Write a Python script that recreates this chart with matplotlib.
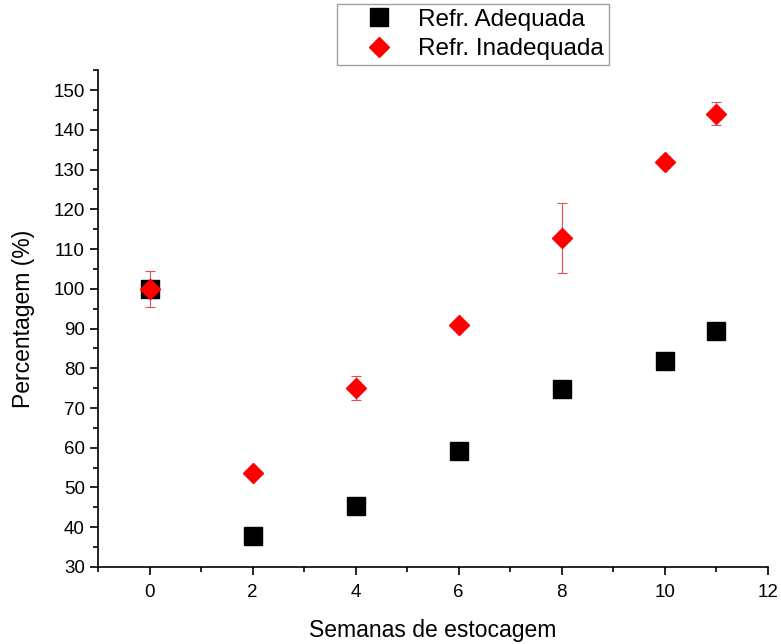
import numpy as np
import matplotlib
matplotlib.use("Agg")
import matplotlib.pyplot as plt
from matplotlib.ticker import MultipleLocator
from matplotlib.lines import Line2D

plt.rcParams['font.family'] = ['Liberation Sans', 'DejaVu Sans']

# dados
semanas = [0, 2, 4, 6, 8, 10, 11]
adequada = [100.0, 37.8, 45.3, 59.3, 74.9, 81.8, 89.3]
adequada_err = [1.5, 0.5, 0.5, 0.5, 0.5, 1.2, 0.5]
inadequada = [100.0, 53.7, 75.1, 90.8, 112.8, 131.8, 144.1]
inadequada_err = [4.5, 0.5, 3.0, 0.5, 8.9, 1.5, 3.0]
labels = ['Refr. Adequada', 'Refr. Inadequada']

fig = plt.figure(figsize=(7.81, 6.44), dpi=100)
ax = fig.add_axes([0.1255, 0.1196, 0.8575, 0.7714])

ax.errorbar(semanas, adequada, yerr=adequada_err, fmt='s', color='black',
            ms=13, ecolor='black', elinewidth=0.8, capsize=3, capthick=0.8)
ax.errorbar(semanas, inadequada, yerr=inadequada_err, fmt='D', color='red',
            ms=10, ecolor='#e05050', elinewidth=0.8, capsize=3.5, capthick=0.8)

ax.set_xlim(-1, 12)
ax.set_ylim(30, 155)
ax.xaxis.set_major_locator(MultipleLocator(2))
ax.xaxis.set_minor_locator(MultipleLocator(1))
ax.yaxis.set_minor_locator(MultipleLocator(5))
ax.set_yticks(np.arange(30, 151, 10))
ax.tick_params(which='major', direction='out', length=6, width=1.2, labelsize=13.5)
ax.tick_params(which='minor', direction='out', length=3.5, width=1.2)
ax.tick_params(axis='x', pad=6)

for s in ['top', 'right']:
    ax.spines[s].set_visible(False)
for s in ['left', 'bottom']:
    ax.spines[s].set_linewidth(1.2)

ax.set_xlabel('Semanas de estocagem', fontsize=16.5, labelpad=13)
ax.set_ylabel('Percentagem (%)', fontsize=16.5, labelpad=13)

handles = [Line2D([], [], ls='none', marker='s', color='black', ms=13),
           Line2D([], [], ls='none', marker='D', color='red', ms=10)]
fig.legend(handles, labels, loc='upper left', bbox_to_anchor=(0.431, 0.994),
           fontsize=17.5, frameon=True, fancybox=False, edgecolor='#888888',
           borderpad=0.2, handletextpad=0.1, handlelength=3.05,
           labelspacing=0.3, borderaxespad=0)

fig.savefig('out.png', dpi=100)
